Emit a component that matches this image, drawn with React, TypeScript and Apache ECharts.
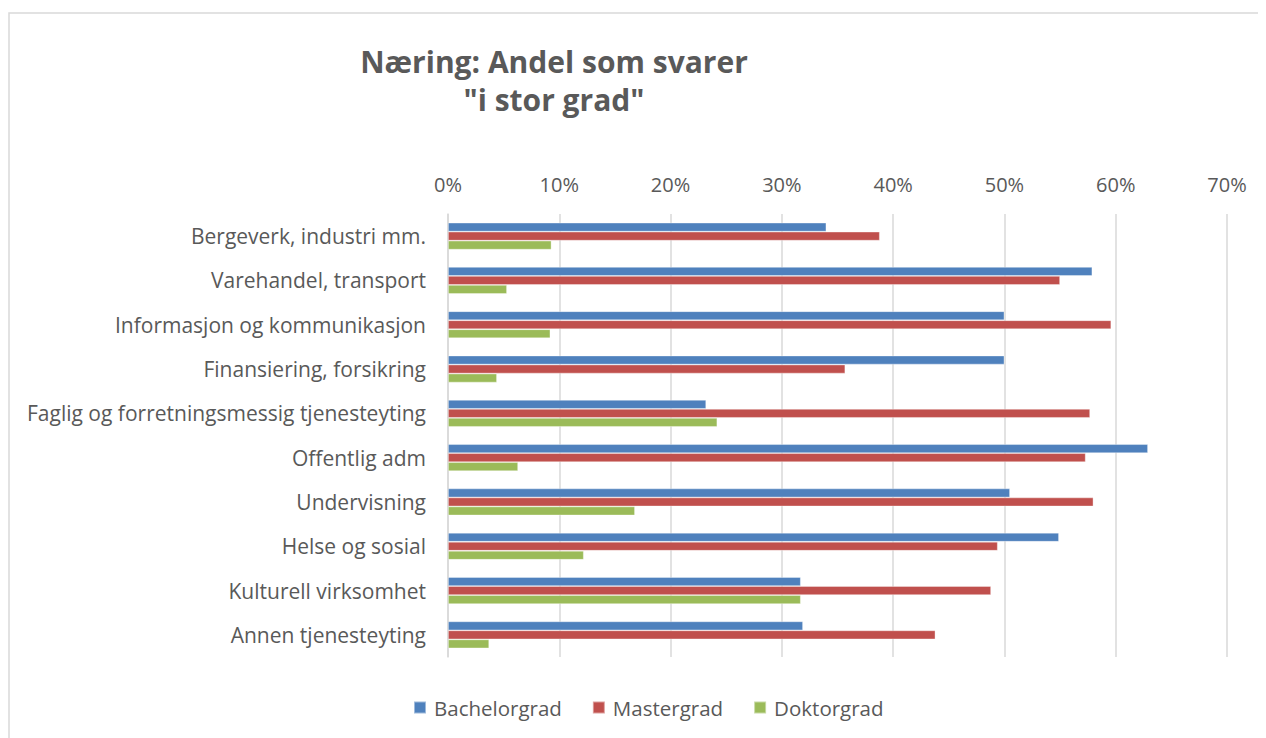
import React, { useEffect, useRef } from "react";
import * as echarts from "echarts";

const categories = [
  "Bergeverk, industri mm.",
  "Varehandel, transport",
  "Informasjon og kommunikasjon",
  "Finansiering, forsikring",
  "Faglig og forretningsmessig tjenesteyting",
  "Offentlig adm",
  "Undervisning",
  "Helse og sosial",
  "Kulturell virksomhet",
  "Annen tjenesteyting",
];

const bachelorgrad = [0.34, 0.579, 0.5, 0.5, 0.232, 0.629, 0.505, 0.549, 0.317, 0.319];
const mastergrad = [0.388, 0.55, 0.596, 0.357, 0.577, 0.573, 0.58, 0.494, 0.488, 0.438];
const doktorgrad = [0.093, 0.053, 0.092, 0.044, 0.242, 0.063, 0.168, 0.122, 0.317, 0.037];

const seriesNames = ["Bachelorgrad", "Mastergrad", "Doktorgrad"];
const colors = ["#4F81BD", "#C0504D", "#9BBB59"];

const FONT = "'Open Sans', Lato, sans-serif";

export default function App() {
  const ref = useRef<HTMLDivElement>(null);

  useEffect(() => {
    if (!ref.current) return;
    const chart = echarts.init(ref.current, undefined, { renderer: "svg" });
    const data = [bachelorgrad, mastergrad, doktorgrad];
    chart.setOption({
      animation: false,
      textStyle: { fontFamily: FONT },
      graphic: [
        {
          type: "polyline",
          shape: { points: [[1, 740], [1, 5], [1340, 5]] },
          style: { fill: "none", stroke: "#D9D9D9", lineWidth: 1.5 },
          silent: true,
        },
        {
          type: "text",
          x: 546,
          y: 34,
          style: {
            text: 'Næring: Andel som svarer\n"i stor grad"',
            font: `bold 30px ${FONT}`,
            fill: "#595959",
            textAlign: "center",
            lineHeight: 38,
          },
        },
      ],
      legend: {
        data: seriesNames,
        left: 400,
        top: 684,
        icon: "rect",
        itemWidth: 12,
        itemHeight: 12,
        itemGap: 30,
        textStyle: { color: "#595959", fontSize: 20.5, fontFamily: FONT, padding: [0, 0, 0, 3] },
      },
      grid: { left: 440, right: 81, top: 206, bottom: 81, containLabel: false },
      xAxis: {
        type: "value",
        position: "top",
        min: 0,
        max: 0.7,
        interval: 0.1,
        axisLine: { show: false },
        axisTick: { show: false },
        splitLine: { show: true, lineStyle: { color: "#D9D9D9", width: 1.5 } },
        axisLabel: {
          color: "#595959",
          fontSize: 20,
          fontFamily: FONT,
          margin: 20,
          formatter: (v: number) => `${Math.round(v * 100)}%`,
        },
      },
      yAxis: {
        type: "category",
        data: categories,
        inverse: true,
        axisTick: { show: false },
        axisLine: { show: true, lineStyle: { color: "#D9D9D9", width: 1.5 } },
        axisLabel: { color: "#595959", fontSize: 21, fontFamily: FONT, margin: 22 },
      },
      series: seriesNames.map((name, i) => ({
        name,
        type: "bar",
        data: data[i],
        barGap: "0%",
        barCategoryGap: "39%",
        itemStyle: { color: colors[i], borderColor: "rgba(255,255,255,0.45)", borderWidth: 0.8 },
      })),
    });
    return () => chart.dispose();
  }, []);

  return (
    <div style={{ width: 1258, height: 730, overflow: "hidden" }}>
      <div ref={ref} style={{ width: 1300, height: 730 }} />
    </div>
  );
}
